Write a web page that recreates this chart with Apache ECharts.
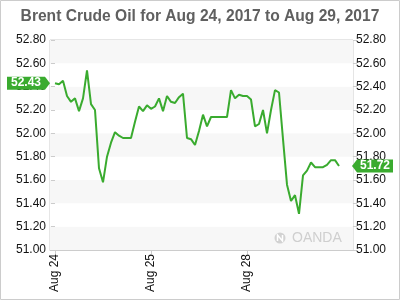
<!DOCTYPE html>
<html>
<head>
<meta charset="utf-8">
<style>
  html, body { margin: 0; padding: 0; background: #fff; }
  #chart { width: 400px; height: 300px; }
</style>
<script src="https://cdn.jsdelivr.net/npm/echarts@6/dist/echarts.min.js"></script>
</head>
<body>
<div id="chart"></div>
<script>
// ---- data ----
const titleText = 'Brent Crude Oil for Aug 24, 2017 to Aug 29, 2017';
const dayLabels = ['Aug 24', 'Aug 25', 'Aug 28'];
const dayStartIndex = [0, 24, 48];
const prices = [
  52.43, 52.42, 52.45, 52.32, 52.27, 52.30, 52.19, 52.30, 52.54, 52.25,
  52.20, 51.70, 51.58, 51.80, 51.92, 52.01, 51.98, 51.96, 51.96, 51.96,
  52.10, 52.23, 52.19, 52.24, 52.21, 52.23, 52.30, 52.19, 52.32, 52.27,
  52.26, 52.31, 52.34, 51.96, 51.95, 51.90, 52.02, 52.16, 52.06, 52.14,
  52.14, 52.14, 52.14, 52.14, 52.37, 52.30, 52.33, 52.32, 52.32, 52.29,
  52.06, 52.08, 52.20, 52.00, 52.20, 52.37, 52.35, 51.95, 51.56, 51.42,
  51.47, 51.31, 51.64, 51.68, 51.75, 51.71, 51.71, 51.71, 51.73, 51.77,
  51.77, 51.72
];
const yMin = 51.0, yMax = 52.8, yStep = 0.2;
const xMin = -1.25, xMax = 74.5;

const green = '#3aab2f';
const fontFam = '"Liberation Sans", Arial, sans-serif';

const seriesData = prices.map((v, i) => [i, v]);

const chart = echarts.init(document.getElementById('chart'), null, { renderer: 'canvas' });

const yAxisBase = {
  type: 'value', min: yMin, max: yMax, interval: yStep,
  axisLine: { show: false },
  axisTick: { show: true, length: 4, lineStyle: { color: '#ccc' } },
  splitLine: { show: false },
  axisLabel: { color: '#111', fontSize: 12, fontFamily: fontFam, margin: 4,
    formatter: v => v.toFixed(2) }
};

chart.setOption({
  animation: false,
  title: {
    text: titleText, left: 'center', top: 4,
    textStyle: { color: '#606060', fontSize: 15.6, fontWeight: 'bold', fontFamily: fontFam }
  },
  grid: { left: 50, right: 47, top: 40, bottom: 50, show: true, borderColor: '#ccc', borderWidth: 1, backgroundColor: 'transparent' },
  xAxis: {
    type: 'value', min: xMin, max: xMax,
    axisLine: { show: true, lineStyle: { color: '#ccc' } },
    splitLine: { show: false },
    axisTick: { show: true, length: 4, lineStyle: { color: '#ccc' }, customValues: dayStartIndex },
    axisLabel: {
      rotate: 90, color: '#111', fontSize: 12, fontFamily: fontFam, margin: 4,
      customValues: dayStartIndex,
      formatter: v => { const k = dayStartIndex.indexOf(Math.round(v)); return k >= 0 ? dayLabels[k] : ''; }
    }
  },
  yAxis: [
    Object.assign({}, yAxisBase, {
      position: 'left',
      splitArea: { show: true, areaStyle: { color: ['#f7f7f7', '#ffffff'] } }
    }),
    Object.assign({}, yAxisBase, { position: 'right', splitArea: { show: false }, axisLabel: Object.assign({}, yAxisBase.axisLabel, { margin: 3 }) })
  ],
  series: [{
    type: 'line', data: seriesData, yAxisIndex: 0,
    symbol: 'none', smooth: false,
    lineStyle: { color: green, width: 2 }
  }]
});

// value tags positioned by the library's scales
const cL = chart.convertToPixel({ yAxisIndex: 0 }, prices[0]);
const cR = chart.convertToPixel({ yAxisIndex: 1 }, prices[prices.length - 1]);
const xL = chart.convertToPixel({ xAxisIndex: 0 }, xMin);
const xR = chart.convertToPixel({ xAxisIndex: 0 }, xMax);
const h = 6.5;

chart.setOption({
  graphic: [
    { type: 'rect', shape: { x: 0.5, y: 0.5, width: 399, height: 299 }, style: { fill: 'none', stroke: '#ccc', lineWidth: 1 }, silent: true },
    { type: 'polygon', shape: { points: [[7, cL - h], [xL - 5, cL - h], [xL, cL], [xL - 5, cL + h], [7, cL + h]] }, style: { fill: green }, z: 100 },
    { type: 'text', x: (7 + xL - 5) / 2, y: cL, style: { text: prices[0].toFixed(2), fill: '#fff', font: 'bold 12px ' + fontFam, align: 'center', verticalAlign: 'middle' }, z: 101 },
    { type: 'polygon', shape: { points: [[xR - 1, cR], [xR + 4, cR - h], [393, cR - h], [393, cR + h], [xR + 4, cR + h]] }, style: { fill: green }, z: 100 },
    { type: 'text', x: (xR + 4 + 393) / 2, y: cR, style: { text: prices[prices.length - 1].toFixed(2), fill: '#fff', font: 'bold 12px ' + fontFam, align: 'center', verticalAlign: 'middle' }, z: 101 },
    { type: 'circle', shape: { cx: 280, cy: 238, r: 5.5 }, style: { fill: '#d2d2d2' }, z: 5 },
    { type: 'polyline', shape: { points: [[277.5, 241], [277.5, 235], [282.5, 241], [282.5, 235]] }, style: { stroke: '#fff', lineWidth: 1.5, fill: 'none' }, z: 6 },
    { type: 'text', x: 292, y: 238, style: { text: 'OANDA', fill: '#cfcfcf', font: '14px ' + fontFam, align: 'left', verticalAlign: 'middle' }, z: 5 }
  ]
});
</script>
</body>
</html>
